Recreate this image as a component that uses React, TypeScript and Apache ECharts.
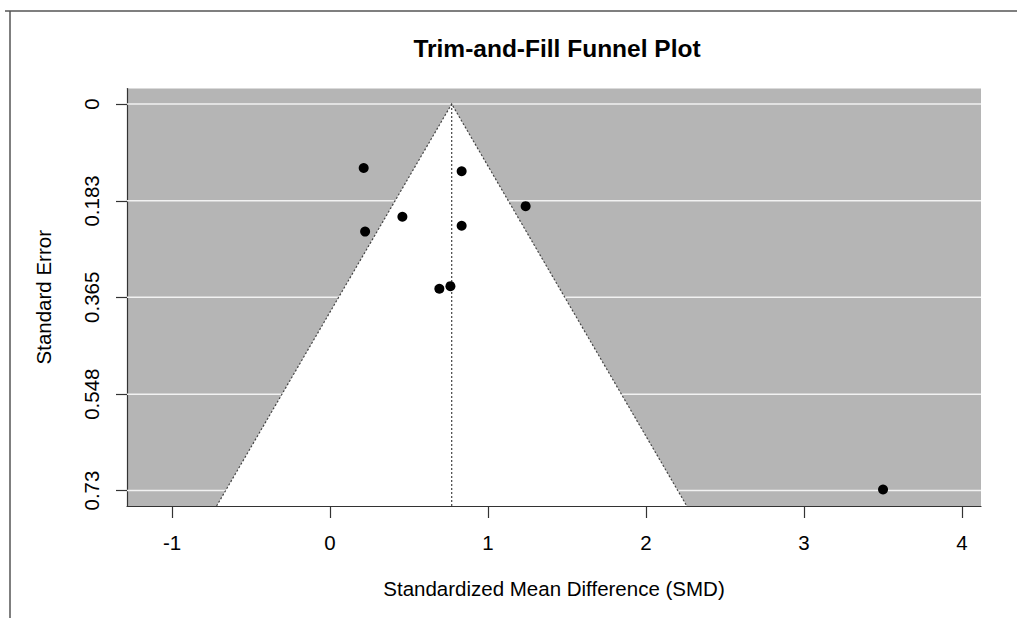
import React, { useEffect, useRef } from "react";
import * as echarts from "echarts";

// Study effects (SMD) and their standard errors
const smd = [0.213, 0.833, 1.238, 0.458, 0.222, 0.833, 0.692, 0.762, 3.5];
const se = [0.121, 0.127, 0.193, 0.213, 0.241, 0.23, 0.349, 0.344, 0.728];
// Pooled estimate (vertical dotted line / funnel apex)
const estimate = 0.77;
// Axis ticks
const xTicks = [-1, 0, 1, 2, 3, 4];
const yTicks = [0, 0.183, 0.365, 0.548, 0.73];
const yTickLabels = ["0", "0.183", "0.365", "0.548", "0.73"];
// Axis ranges
const xRange = [-1.285, 4.12];
const yRange = [-0.0292, 0.7592];

const FONT = "Liberation Sans, Arial, sans-serif";
const LABEL_SIZE = 20.5;

export default function App() {
  const ref = useRef<HTMLDivElement>(null);
  useEffect(() => {
    if (!ref.current) return;
    const chart = echarts.init(ref.current, undefined, { renderer: "svg" });
    const yMax = yRange[1];
    const option: any = {
      animation: false,
      backgroundColor: "#ffffff",
      title: {
        text: "Trim-and-Fill Funnel Plot",
        left: 552,
        textAlign: "center",
        top: 31,
        textStyle: { fontFamily: FONT, fontSize: 24.5, fontWeight: "bold", color: "#000" },
      },
      graphic: [
        { type: "line", shape: { x1: 10, y1: 11, x2: 10, y2: 618 }, style: { stroke: "#555", lineWidth: 1.5 } },
        { type: "line", shape: { x1: 5, y1: 11, x2: 1017, y2: 11 }, style: { stroke: "#555", lineWidth: 1.5 } },
      ],
      grid: {
        left: 127,
        top: 88.5,
        right: 36,
        bottom: 112,
        show: true,
        backgroundColor: "#b5b5b5",
        borderWidth: 0,
      },
      xAxis: {
        type: "value",
        min: xRange[0],
        max: xRange[1],
        name: "Standardized Mean Difference (SMD)",
        nameLocation: "middle",
        nameGap: 72,
        nameTextStyle: { fontFamily: FONT, fontSize: LABEL_SIZE, color: "#000" },
        axisLine: { show: true, onZero: false, lineStyle: { color: "#333", width: 1.2 } },
        axisTick: { show: true, length: 12, customValues: xTicks, lineStyle: { color: "#333", width: 1.2 } },
        axisLabel: {
          customValues: xTicks,
          margin: 26,
          fontFamily: FONT,
          fontSize: LABEL_SIZE,
          color: "#000",
        },
        splitLine: { show: false },
      },
      yAxis: {
        type: "value",
        inverse: true,
        min: yRange[0],
        max: yRange[1],
        name: "Standard Error",
        nameLocation: "middle",
        nameGap: 73,
        nameTextStyle: { fontFamily: FONT, fontSize: LABEL_SIZE, color: "#000" },
        axisLine: { show: true, onZero: false, lineStyle: { color: "#333", width: 1.2 } },
        axisTick: { show: true, length: 11, customValues: yTicks, lineStyle: { color: "#333", width: 1.2 } },
        axisLabel: {
          customValues: yTicks,
          rotate: 90,
          margin: 25,
          fontFamily: FONT,
          fontSize: LABEL_SIZE,
          color: "#000",
          formatter: (v: number) => {
            const i = yTicks.findIndex((t) => Math.abs(t - v) < 1e-6);
            return i >= 0 ? yTickLabels[i] : "";
          },
        },
        splitLine: { show: false },
      },
      series: [
        {
          type: "custom",
          name: "gridlines",
          z: 1,
          silent: true,
          data: yTicks.map((t) => [t]),
          renderItem: (params: any, api: any) => {
            const y = api.value(0);
            const p1 = api.coord([xRange[0], y]);
            const p2 = api.coord([xRange[1], y]);
            return {
              type: "line",
              shape: { x1: p1[0], y1: p1[1], x2: p2[0], y2: p2[1] },
              style: { stroke: "#f2f2f2", lineWidth: 1.5 },
            };
          },
        },
        {
          type: "custom",
          name: "funnel",
          z: 2,
          silent: true,
          data: [[estimate]],
          renderItem: (params: any, api: any) => {
            const est = api.value(0);
            const top = api.coord([est, 0]);
            const bl = api.coord([est - 1.96 * yMax, yMax]);
            const br = api.coord([est + 1.96 * yMax, yMax]);
            return {
              type: "group",
              children: [
                { type: "polygon", shape: { points: [bl, top, br] }, style: { fill: "#ffffff" } },
                {
                  type: "polyline",
                  shape: { points: [bl, top, br] },
                  style: { stroke: "#444", lineWidth: 1.2, lineDash: [2, 2], fill: null },
                },
                {
                  type: "line",
                  shape: { x1: top[0], y1: top[1], x2: top[0], y2: bl[1] },
                  style: { stroke: "#444", lineWidth: 1.2, lineDash: [2, 2] },
                },
              ],
            };
          },
        },
        {
          type: "scatter",
          name: "studies",
          z: 3,
          symbol: "circle",
          symbolSize: 10,
          itemStyle: { color: "#000", opacity: 1 },
          data: smd.map((x, i) => [x, se[i]]),
        },
      ],
    };
    chart.setOption(option);
    return () => chart.dispose();
  }, []);
  return (
    <div
      ref={ref}
      style={{ position: "fixed", left: 0, top: 0, width: 1017, height: 618 }}
    />
  );
}
